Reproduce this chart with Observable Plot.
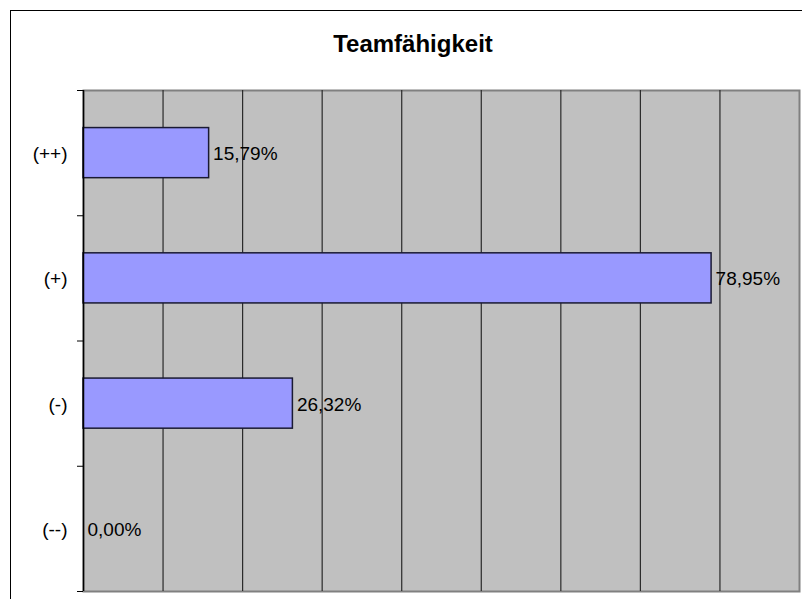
<!DOCTYPE html>
<html>
<head>
<meta charset="utf-8">
<script src="https://cdn.jsdelivr.net/npm/d3@7"></script>
<script src="https://cdn.jsdelivr.net/npm/@observablehq/plot@0.6"></script>
<style>
  html, body { margin: 0; padding: 0; background: #fff; }
  #wrap { position: relative; width: 802px; height: 599px; overflow: hidden; font-family: "Liberation Sans", Arial, sans-serif; }
  #border { position: absolute; left: 10px; top: 10px; width: 900px; height: 700px; border-left: 1.5px solid #000; border-top: 1.5px solid #000; }
  #title { position: absolute; left: 10px; width: 806px; top: 32px; text-align: center; font-weight: bold; font-size: 24px; line-height: 24px; color: #000; }
  #chart { position: absolute; left: 0; top: 80px; }
</style>
</head>
<body>
<div id="wrap">
  <div id="border"></div>
  <div id="title">Teamfähigkeit</div>
  <div id="chart"></div>
</div>
<script>
const categories = ["(++)", "(+)", "(-)", "(--)"];
const values = [15.79, 78.95, 26.32, 0.00];
const xTicks = [0, 10, 20, 30, 40, 50, 60, 70, 80, 90];

const data = categories.map((c, i) => ({cat: c, value: values[i], i}));
const fmt = v => v.toFixed(2).replace(".", ",") + "%";

const chart = Plot.plot({
  width: 802,
  height: 519,
  marginTop: 10,
  marginBottom: 8,
  marginLeft: 83,
  marginRight: 3,
  style: {fontFamily: "'Liberation Sans', Arial, sans-serif", fontSize: "19px", color: "#000", background: "transparent", overflow: "visible"},
  x: {type: "linear", domain: [xTicks[0], xTicks[xTicks.length - 1]], axis: null},
  y: {type: "linear", domain: [0, categories.length], reverse: true, axis: null},
  marks: [
    Plot.frame({fill: "#c0c0c0", stroke: "#808080", strokeWidth: 2}),
    Plot.ruleX(xTicks.slice(1, -1), {stroke: "#2a2a2a", strokeWidth: 1.2}),
    Plot.rect(data, {x1: () => 0, x2: "value", y1: d => d.i + 0.3, y2: d => d.i + 0.7, fill: "#9999ff", stroke: "#1a1a33", strokeWidth: 1.5}),
    Plot.text(data, {x: "value", y: d => d.i + 0.5, text: d => fmt(d.value), textAnchor: "start", dx: 4, dy: 1, fontSize: 19}),
    Plot.ruleX([0], {stroke: "#000", strokeWidth: 1.5}),
    Plot.axisY(d3.range(categories.length + 1), {tickSize: 6, tickFormat: () => "", stroke: "#000", label: null}),
    Plot.axisY(categories.map((c, i) => i + 0.5), {tickSize: 0, tickPadding: 16, tickFormat: v => categories[Math.floor(v)], fontSize: 19, dy: 1, label: null})
  ]
});
document.getElementById("chart").appendChild(chart);
</script>
</body>
</html>
